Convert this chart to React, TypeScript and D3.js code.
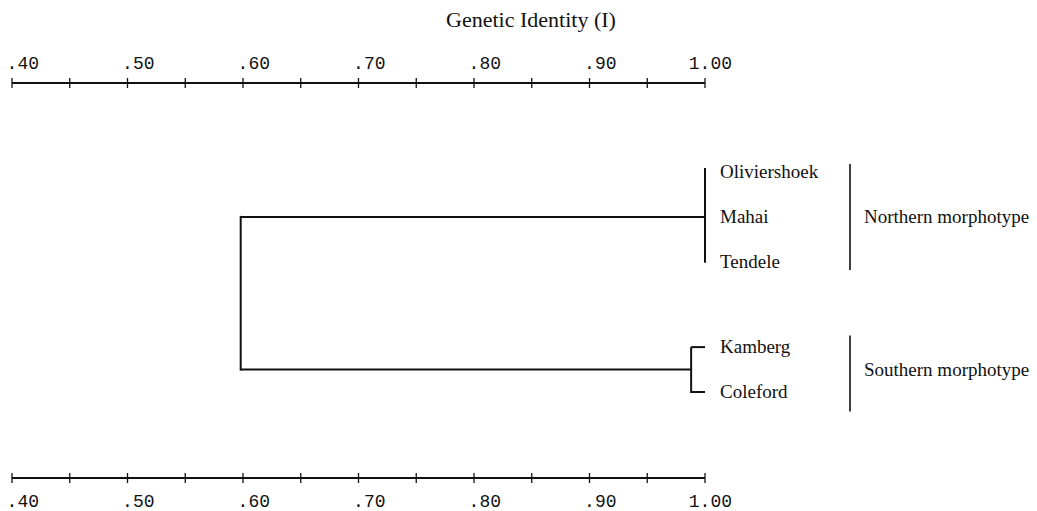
import React from "react";
import * as d3 from "d3";

// leaves of each morphotype, top to bottom
const northernLeaves = ["Oliviershoek", "Mahai", "Tendele"];
const southernLeaves = ["Kamberg", "Coleford"];
const groupNames = ["Northern morphotype", "Southern morphotype"];
// genetic identity at which the clusters join
const northernJoin = 1.0;
const southernJoin = 0.988;
const rootJoin = 0.598;

const axisDomain = [0.4, 1.0];
const minorStep = 0.05;
const majorTicks = [0.4, 0.5, 0.6, 0.7, 0.8, 0.9, 1.0];
const tickLabels = [".40", ".50", ".60", ".70", ".80", ".90", "1.00"];

const W = 1037;
const H = 511;
const serif = "'Liberation Serif', 'Times New Roman', serif";
const mono = "'Liberation Mono', 'Courier New', monospace";
const monoSize = 18;

const treeData = {
  name: "root",
  identity: rootJoin,
  children: [
    { name: groupNames[0], identity: northernJoin, children: northernLeaves.map((n) => ({ name: n, identity: 1.0 })) },
    { name: groupNames[1], identity: southernJoin, children: southernLeaves.map((n) => ({ name: n, identity: 1.0 })) },
  ],
};

function Axis({ x, y, top }: { x: d3.ScaleLinear<number, number>; y: number; top: boolean }) {
  const minor = d3.range(axisDomain[0], axisDomain[1] + 1e-9, minorStep);
  return (
    <g>
      <line x1={x(axisDomain[0])} x2={x(axisDomain[1])} y1={y} y2={y} stroke="#111" strokeWidth={2} />
      {minor.map((v, i) => (
        <line key={i} x1={x(v)} x2={x(v)} y1={y - 5} y2={y + 5} stroke="#111" strokeWidth={1.3} />
      ))}
      {majorTicks.map((v, i) => {
        const lab = tickLabels[i];
        const before = lab.indexOf(".");
        const tx = x(v) - (before + 0.5) * 0.6 * monoSize;
        return (
          <text key={i} x={tx} y={top ? y - 14 : y + 29} fontFamily={mono} fontSize={monoSize} fill="#111">
            {lab}
          </text>
        );
      })}
    </g>
  );
}

export default function App() {
  const x = d3.scaleLinear().domain(axisDomain).range([12, 705]);

  const root = d3.hierarchy(treeData as any);
  d3.cluster().nodeSize([44.9, 1]).separation((a: any, b: any) => (a.parent === b.parent ? 1 : 1.9))(root as any);
  const minLeaf = d3.min(root.leaves(), (l: any) => l.x) as number;
  const yTop = 172;
  const yy = (n: any) => yTop + n.x - minLeaf;

  const groups = root.children || [];
  const sw = 2;

  return (
    <svg width={W} height={H} style={{ position: "absolute", left: 0, top: 0, background: "#fff" }}>
      <text x={531} y={27} textAnchor="middle" fontFamily={serif} fontSize={22} fill="#111">
        Genetic Identity (I)
      </text>
      <Axis x={x} y={83} top={true} />
      <Axis x={x} y={478} top={false} />

      {/* root join */}
      <line x1={x(rootJoin)} x2={x(rootJoin)} y1={yy(groups[0])} y2={yy(groups[1])} stroke="#111" strokeWidth={sw} strokeLinecap="square" />
      {groups.map((g: any, gi) => {
        const kids = g.children || [];
        const gx = x(g.data.identity);
        const y0 = yy(kids[0]);
        const y1 = yy(kids[kids.length - 1]);
        const leafYs = kids.map(yy);
        const mid = d3.mean(leafYs) as number;
        const half = 8 + 15 * kids.length;
        const shift = kids.length < 3 ? 4 : 0;
        return (
          <g key={gi}>
            <line x1={x(rootJoin)} x2={gx} y1={yy(g)} y2={yy(g)} stroke="#111" strokeWidth={sw} />
            <line x1={gx} x2={gx} y1={g.data.identity >= 1 ? y0 - 4 : y0} y2={y1 + 1} stroke="#111" strokeWidth={sw} />
            {kids.map((k: any, ki: number) => (
              <g key={ki}>
                {gx < x(k.data.identity) && (
                  <line x1={gx} x2={x(k.data.identity)} y1={yy(k)} y2={yy(k)} stroke="#111" strokeWidth={sw} />
                )}
                <text x={720} y={yy(k)} dy="0.32em" fontFamily={serif} fontSize={19} fill="#111">
                  {k.data.name}
                </text>
              </g>
            ))}
            <line x1={850} x2={850} y1={mid + shift - half} y2={mid + shift + half} stroke="#111" strokeWidth={1.6} />
            <text x={864} y={mid} dy="0.32em" fontFamily={serif} fontSize={19} fill="#111">
              {g.data.name}
            </text>
          </g>
        );
      })}
    </svg>
  );
}
